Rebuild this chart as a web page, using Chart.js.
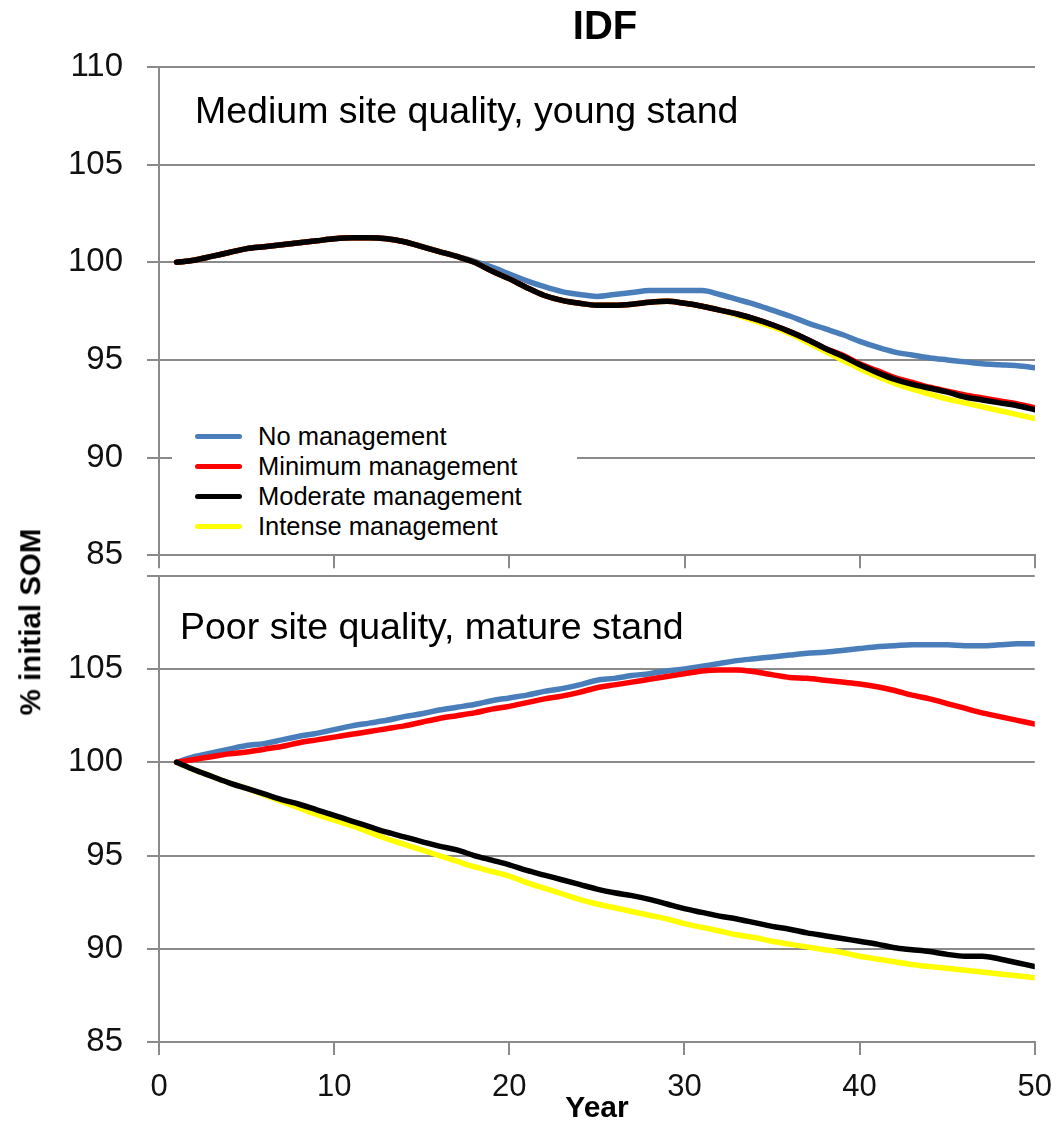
<!DOCTYPE html>
<html>
<head>
<meta charset="utf-8">
<script src="https://cdn.jsdelivr.net/npm/chart.js@4.4.1/dist/chart.umd.min.js"></script>
<style>
  html, body { margin: 0; padding: 0; background: #fff; }
  #wrap { position: relative; width: 1059px; height: 1128px; overflow: hidden;
          font-family: "Liberation Sans", Arial, sans-serif; color: #000; }
  canvas { position: absolute; left: 0; }
  #top { top: 0; }
  #bottom { top: 532px; }
  .txt { position: absolute; white-space: nowrap; line-height: 1; }
  #title { left: 0; width: 1210px; text-align: center; top: 5px; font-size: 40px; font-weight: bold; }
  #ytitle { left: 30px; top: 622px; font-size: 29.5px; font-weight: bold;
            transform: translate(-50%, -50%) rotate(-90deg); }
  #xtitle { left: 597px; top: 1092px; font-size: 30px; font-weight: bold; transform: translateX(-50%); }
  .panel { font-size: 37.5px; }
  #p1 { left: 195px; top: 92px; }
  #p2 { left: 180px; top: 608px; }
  #legend { position: absolute; left: 172px; top: 415px; width: 405px; height: 132px; background: #fff; }
  .row { position: absolute; left: 0; height: 30px; }
  .sw { position: absolute; left: 23px; width: 47px; height: 5px; border-radius: 3px; top: 12px; }
  .lab { position: absolute; left: 86px; top: 2px; font-size: 25.5px; line-height: 1; white-space: nowrap; }
</style>
</head>
<body>
<div id="wrap">
  <canvas id="top" width="1059" height="599"></canvas>
  <canvas id="bottom" width="1066" height="596"></canvas>
  <div class="txt" id="title">IDF</div>
  <div class="txt" id="ytitle">% initial SOM</div>
  <div class="txt" id="xtitle">Year</div>
  <div class="txt panel" id="p1">Medium site quality, young stand</div>
  <div class="txt panel" id="p2">Poor site quality, mature stand</div>
  <div id="legend"></div>
</div>
<script>
// Simulation years
const years = [1,2,3,4,5,6,7,8,9,10,11,12,13,14,15,16,17,18,19,20,21,22,23,24,25,
               26,27,28,29,30,31,32,33,34,35,36,37,38,39,40,41,42,43,44,45,46,47,48,49,50];

const seriesNames = ['No management', 'Minimum management', 'Moderate management', 'Intense management'];
const seriesColors = ['#4a7ebb', '#ff0000', '#000000', '#ffff00'];

// Medium site quality, young stand (% of initial SOM)
const mediumNone = [100.0,100.1,100.3,100.5,100.7,100.8,100.9,101.0,101.1,101.2,
  101.25,101.25,101.2,101.05,100.8,100.55,100.3,100.05,99.75,99.4,
  99.05,98.75,98.5,98.35,98.25,98.35,98.45,98.55,98.55,98.55,
  98.55,98.35,98.1,97.85,97.55,97.25,96.9,96.6,96.3,95.95,
  95.65,95.4,95.25,95.1,95.0,94.9,94.8,94.75,94.7,94.6];
const mediumMinimum = [100.0,100.1,100.3,100.5,100.7,100.8,100.9,101.0,101.1,101.2,
  101.25,101.25,101.2,101.05,100.8,100.55,100.3,100.0,99.55,99.15,
  98.7,98.3,98.05,97.9,97.8,97.8,97.85,97.95,98.0,97.9,
  97.75,97.55,97.35,97.1,96.8,96.45,96.05,95.6,95.25,94.8,
  94.45,94.1,93.85,93.6,93.4,93.2,93.05,92.9,92.75,92.55];
const mediumModerate = [100.0,100.1,100.3,100.5,100.7,100.8,100.9,101.0,101.1,101.2,
  101.25,101.25,101.2,101.05,100.8,100.55,100.3,100.0,99.55,99.15,
  98.7,98.3,98.05,97.9,97.8,97.8,97.85,97.95,98.0,97.9,
  97.75,97.55,97.35,97.1,96.8,96.45,96.05,95.6,95.2,94.75,
  94.35,94.0,93.75,93.55,93.35,93.1,92.95,92.8,92.65,92.45];
const mediumIntense = [100.0,100.1,100.3,100.5,100.7,100.8,100.9,101.0,101.1,101.2,
  101.25,101.25,101.2,101.05,100.8,100.55,100.3,100.0,99.55,99.15,
  98.7,98.3,98.05,97.9,97.8,97.8,97.85,97.95,98.0,97.9,
  97.75,97.55,97.3,97.0,96.7,96.35,95.9,95.45,95.0,94.55,
  94.15,93.8,93.5,93.25,93.0,92.8,92.6,92.4,92.2,92.0];

// Poor site quality, mature stand (% of initial SOM)
const poorNone = [100.0,100.3,100.5,100.7,100.9,101.0,101.2,101.4,101.55,101.75,
  101.95,102.1,102.25,102.45,102.6,102.8,102.95,103.1,103.3,103.45,
  103.6,103.8,103.95,104.15,104.4,104.5,104.65,104.75,104.9,105.0,
  105.15,105.3,105.45,105.55,105.65,105.75,105.85,105.9,106.0,106.1,
  106.2,106.25,106.3,106.3,106.3,106.25,106.25,106.3,106.35,106.35];
const poorMinimum = [100.0,100.15,100.3,100.45,100.55,100.7,100.85,101.05,101.2,101.35,
  101.5,101.65,101.8,101.95,102.15,102.35,102.5,102.65,102.85,103.0,
  103.2,103.4,103.55,103.75,104.0,104.15,104.3,104.45,104.6,104.75,
  104.9,104.95,104.95,104.85,104.7,104.55,104.5,104.4,104.3,104.2,
  104.05,103.85,103.6,103.4,103.15,102.9,102.65,102.45,102.25,102.05];
const poorModerate = [100.0,99.6,99.25,98.9,98.6,98.3,98.0,97.75,97.45,97.15,
  96.85,96.55,96.25,96.0,95.75,95.5,95.3,95.0,94.75,94.5,
  94.2,93.95,93.7,93.45,93.2,93.0,92.85,92.65,92.4,92.15,
  91.95,91.75,91.6,91.4,91.2,91.05,90.85,90.7,90.55,90.4,
  90.25,90.05,89.95,89.85,89.7,89.6,89.6,89.45,89.25,89.05];
const poorIntense = [100.0,99.6,99.25,98.9,98.6,98.25,97.9,97.55,97.2,96.9,
  96.6,96.25,95.9,95.6,95.3,95.0,94.7,94.4,94.15,93.9,
  93.55,93.25,92.95,92.65,92.4,92.2,92.0,91.8,91.6,91.35,
  91.15,90.95,90.75,90.6,90.4,90.25,90.1,89.95,89.8,89.6,
  89.45,89.3,89.15,89.05,88.95,88.85,88.75,88.65,88.55,88.45];

// Axis settings
const xMin = 0, xMax = 50, xStep = 10;
const yMin = 85, yMax = 110, yStep = 5;

const GRID = '#8a8a8a';
const FONT = "'Liberation Sans', Arial, sans-serif";
Chart.defaults.font.family = FONT;
Chart.defaults.color = '#111';

// black drawn on top, then red, yellow, blue beneath
const drawOrder = [3, 1, 0, 2];

function buildDatasets(seriesList) {
  return seriesList.map((vals, i) => ({
    label: seriesNames[i],
    data: years.map((yr, k) => ({ x: yr, y: vals[k] })),
    borderColor: seriesColors[i],
    backgroundColor: seriesColors[i],
    borderWidth: 5.5,
    pointRadius: 0,
    fill: false,
    cubicInterpolationMode: 'monotone',
    borderCapStyle: 'round',
    borderJoinStyle: 'round',
    order: drawOrder[i]
  }));
}

function panelOptions(padTop, padRight, xAxisHeight, showXLabels, hideTopLabel) {
  return {
    responsive: false,
    animation: false,
    events: [],
    layout: { padding: { left: 0, top: padTop, right: padRight, bottom: 0 } },
    plugins: { legend: { display: false }, tooltip: { enabled: false }, title: { display: false } },
    scales: {
      x: {
        type: 'linear', min: xMin, max: xMax,
        ticks: { display: showXLabels, stepSize: xStep, font: { size: 31 }, color: '#111', padding: 14, maxRotation: 0 },
        grid: { drawOnChartArea: false, drawTicks: true, tickLength: 13, color: GRID, lineWidth: 2 },
        border: { display: true, color: GRID, width: 2 },
        afterFit(scale) { scale.height = xAxisHeight; }
      },
      y: {
        min: yMin, max: yMax,
        ticks: {
          stepSize: yStep, font: { size: 33 }, color: '#111', padding: 24,
          callback: (v) => (hideTopLabel && v === yMax) ? '' : String(v)
        },
        grid: { color: GRID, lineWidth: 2, tickLength: 12, drawTicks: true },
        border: { display: true, color: GRID, width: 2 },
        afterFit(scale) { scale.width = 159; }
      }
    }
  };
}

new Chart(document.getElementById('top'), {
  type: 'line',
  data: { datasets: buildDatasets([mediumNone, mediumMinimum, mediumModerate, mediumIntense]) },
  options: panelOptions(67, 24, 24, false, false)
});

new Chart(document.getElementById('bottom'), {
  type: 'line',
  data: { datasets: buildDatasets([poorNone, poorMinimum, poorModerate, poorIntense]) },
  options: panelOptions(27, 17, 86, true, true)
});

// Legend for the management scenarios
const legend = document.getElementById('legend');
const rowTops = [7, 37, 67, 97];
seriesNames.forEach((name, i) => {
  const row = document.createElement('div');
  row.className = 'row';
  row.style.top = rowTops[i] + 'px';
  const sw = document.createElement('div');
  sw.className = 'sw';
  sw.style.background = seriesColors[i];
  const lab = document.createElement('div');
  lab.className = 'lab';
  lab.textContent = name;
  row.appendChild(sw);
  row.appendChild(lab);
  legend.appendChild(row);
});
</script>
</body>
</html>
